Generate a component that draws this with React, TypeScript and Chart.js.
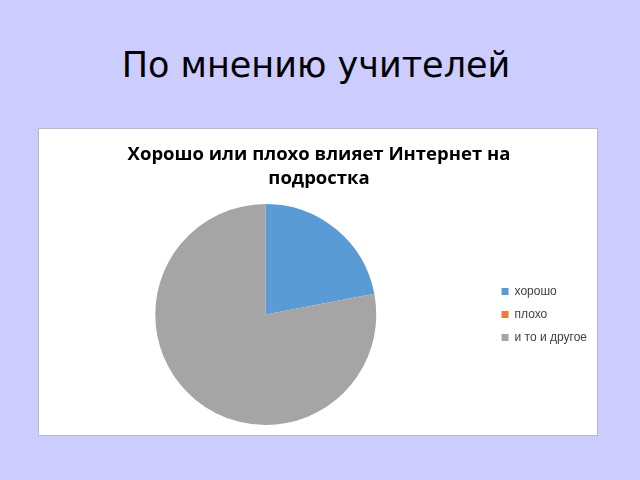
import React, { useEffect, useRef } from 'react';
import { Chart, registerables } from 'chart.js';

Chart.register(...registerables);

const categories = ['хорошо', 'плохо', 'и то и другое'];
const shares = [22, 0, 78];
const sliceColors = ['#5B9BD5', '#ED7D31', '#A5A5A5'];
const chartTitle = ['Хорошо или плохо влияет Интернет на', 'подростка'];

const PieBox: React.FC = () => {
  const canvasRef = useRef<HTMLCanvasElement | null>(null);

  useEffect(() => {
    if (!canvasRef.current) return;
    const chart = new Chart(canvasRef.current, {
      type: 'pie',
      data: {
        labels: categories,
        datasets: [
          {
            data: shares,
            backgroundColor: sliceColors,
            borderWidth: 0,
          },
        ],
      },
      options: {
        animation: false,
        responsive: false,
        layout: { padding: { left: 2, right: 0, top: 0, bottom: 10 } },
        plugins: {
          title: {
            display: true,
            text: chartTitle,
            color: '#000000',
            font: {
              family: '"Open Sans", "Liberation Sans", sans-serif',
              size: 18.5,
              weight: 'bold',
              lineHeight: 1.27,
            },
            padding: { top: 14, bottom: 14 },
          },
          legend: {
            position: 'right',
            fullSize: false,
            labels: {
              boxWidth: 7,
              boxHeight: 7,
              padding: 11,
              color: '#404040',
              font: { family: '"Liberation Sans", Arial, sans-serif', size: 12 },
            },
          },
          tooltip: { enabled: false },
        },
      },
    });
    return () => chart.destroy();
  }, []);

  return <canvas ref={canvasRef} width={558} height={306} style={{ display: 'block' }} />;
};

export default function App() {
  return (
    <div
      style={{
        position: 'fixed',
        left: 0,
        top: 0,
        width: 640,
        height: 480,
        background: '#CCCCFF',
        overflow: 'hidden',
      }}
    >
      <div
        style={{
          position: 'absolute',
          left: 0,
          width: 632,
          top: 43,
          textAlign: 'center',
          fontFamily: '"DejaVu Sans", sans-serif',
          fontSize: 35,
          lineHeight: '44px',
          color: '#000',
        }}
      >
        По мнению учителей
      </div>
      <div
        style={{
          position: 'absolute',
          left: 38,
          top: 128,
          width: 558,
          height: 306,
          background: '#FFFFFF',
          border: '1px solid #B8B8C8',
        }}
      >
        <PieBox />
      </div>
    </div>
  );
}
